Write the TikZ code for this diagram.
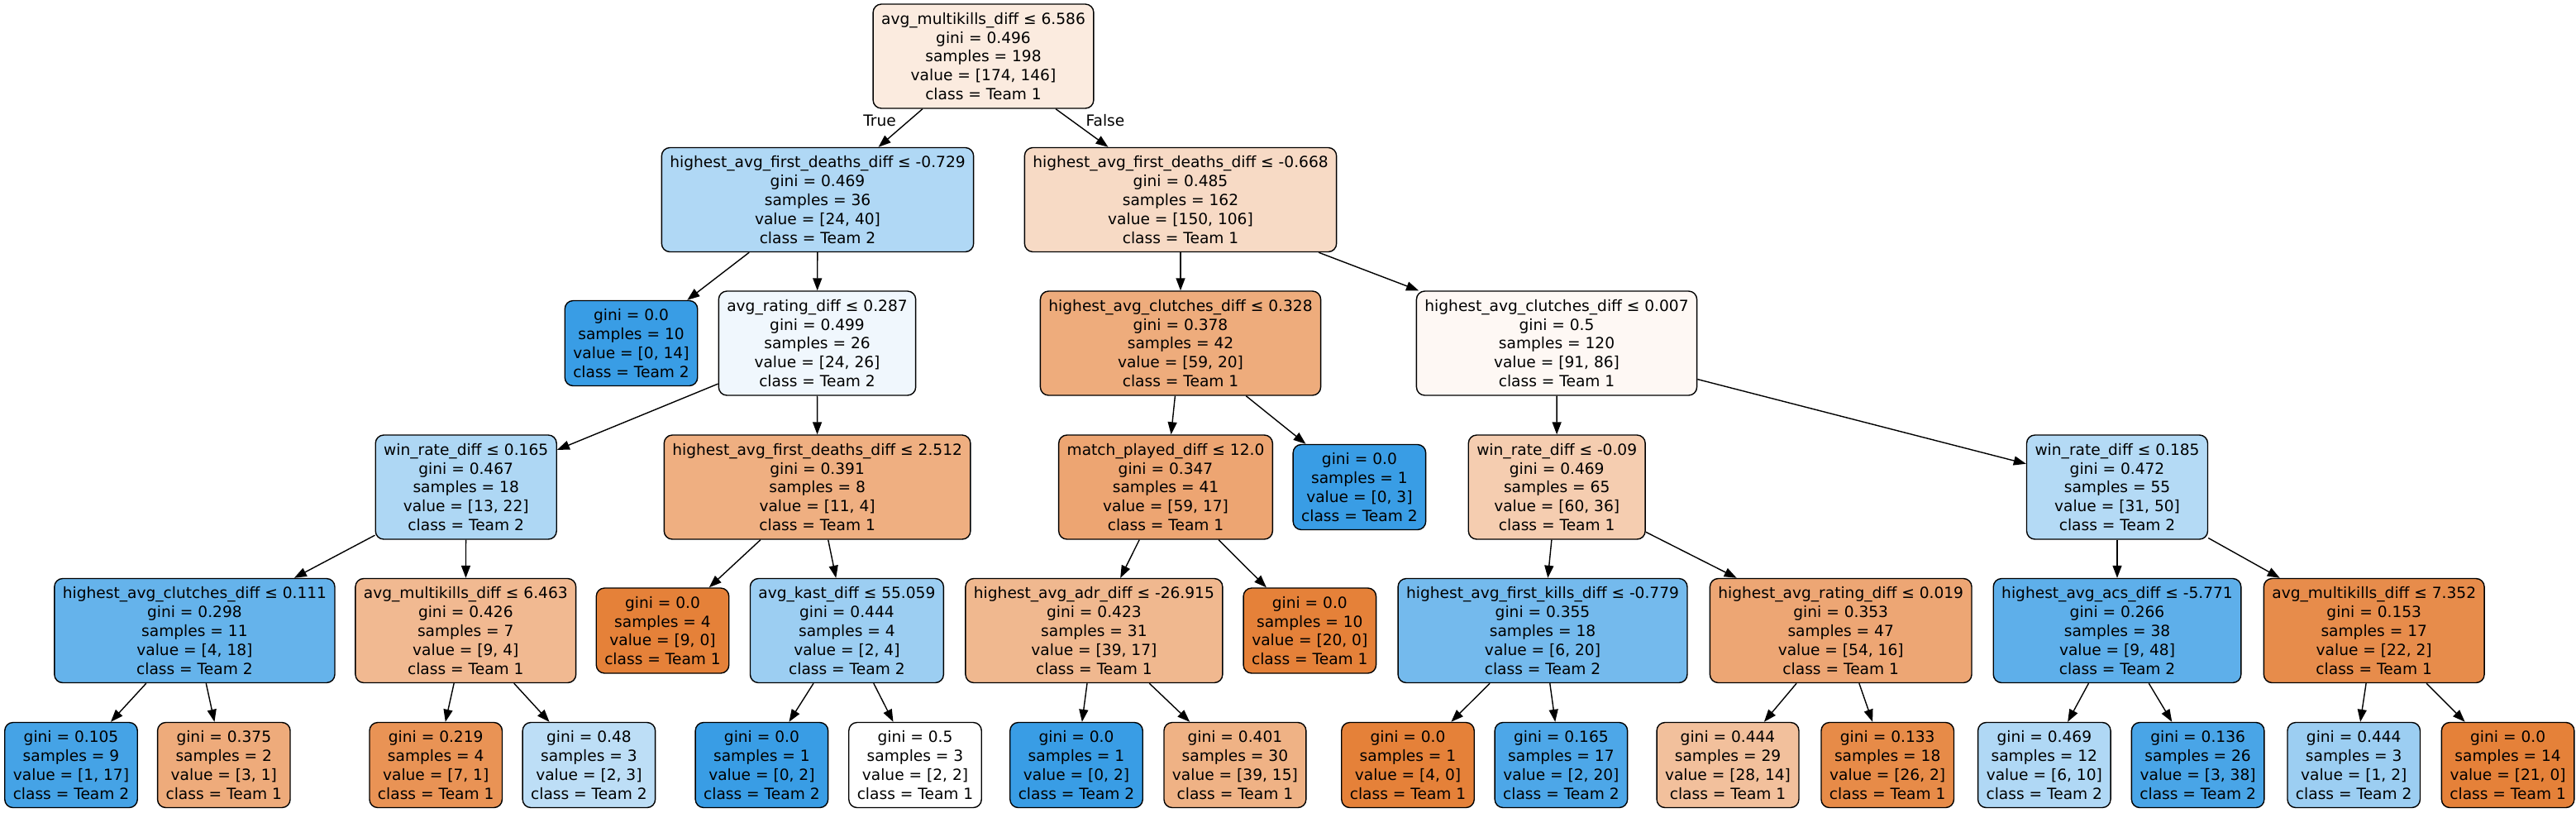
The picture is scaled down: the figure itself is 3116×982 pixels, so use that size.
\documentclass[tikz,border=0pt]{standalone}
\usepackage{fontspec}
\setmainfont{DejaVu Sans}
\usetikzlibrary{arrows.meta}
\definecolor{teamone}{RGB}{229,129,57}
\definecolor{teamtwo}{RGB}{57,157,229}

\begin{document}
\begin{tikzpicture}[x=0.5pt,y=-0.5pt,
    font=\fontsize{9.3}{11.45}\selectfont,
    tnode/.style={draw,line width=0.7pt,rounded corners=5pt,align=center,inner xsep=5pt,inner ysep=2pt},
    split/.style={tnode,minimum height=63pt},
    leaf/.style={tnode,minimum height=51.5pt},
    arr/.style={line width=0.7pt,-{Triangle[length=7.5pt,width=5.5pt]}}]
  \useasboundingbox (0,0) rectangle (3116,982);
  % 節点の定義
  \node[split,fill={rgb,255:red,251;green,235;blue,223}] (n0) at (1189.5,68) {avg\_multikills\_diff ≤ 6.586\\gini = 0.496\\samples = 198\\value = [174, 146]\\class = Team 1};
  \node[split,fill={rgb,255:red,176;green,216;blue,245}] (n1) at (989,241.5) {highest\_avg\_first\_deaths\_diff ≤ -0.729\\gini = 0.469\\samples = 36\\value = [24, 40]\\class = Team 2};
  \node[leaf,fill=teamtwo] (n2) at (763.5,415) {gini = 0.0\\samples = 10\\value = [0, 14]\\class = Team 2};
  \node[split,fill={rgb,255:red,240;green,247;blue,253}] (n3) at (988.5,415) {avg\_rating\_diff ≤ 0.287\\gini = 0.499\\samples = 26\\value = [24, 26]\\class = Team 2};
  \node[split,fill={rgb,255:red,174;green,215;blue,244}] (n4) at (563.7,589) {win\_rate\_diff ≤ 0.165\\gini = 0.467\\samples = 18\\value = [13, 22]\\class = Team 2};
  \node[split,fill={rgb,255:red,101;green,179;blue,235}] (n5) at (235.4,762.5) {highest\_avg\_clutches\_diff ≤ 0.111\\gini = 0.298\\samples = 11\\value = [4, 18]\\class = Team 2};
  \node[leaf,fill={rgb,255:red,69;green,163;blue,230}] (n6) at (86,925) {gini = 0.105\\samples = 9\\value = [1, 17]\\class = Team 2};
  \node[leaf,fill={rgb,255:red,238;green,171;blue,123}] (n7) at (270.8,925) {gini = 0.375\\samples = 2\\value = [3, 1]\\class = Team 1};
  \node[split,fill={rgb,255:red,241;green,185;blue,145}] (n8) at (563.3,762.5) {avg\_multikills\_diff ≤ 6.463\\gini = 0.426\\samples = 7\\value = [9, 4]\\class = Team 1};
  \node[leaf,fill={rgb,255:red,233;green,147;blue,85}] (n9) at (527.2,925) {gini = 0.219\\samples = 4\\value = [7, 1]\\class = Team 1};
  \node[leaf,fill={rgb,255:red,189;green,222;blue,246}] (n10) at (712.4,925) {gini = 0.48\\samples = 3\\value = [2, 3]\\class = Team 2};
  \node[split,fill={rgb,255:red,239;green,175;blue,129}] (n11) at (988.6,589) {highest\_avg\_first\_deaths\_diff ≤ 2.512\\gini = 0.391\\samples = 8\\value = [11, 4]\\class = Team 1};
  \node[leaf,fill=teamone] (n12) at (801.5,762.5) {gini = 0.0\\samples = 4\\value = [9, 0]\\class = Team 1};
  \node[split,fill={rgb,255:red,156;green,206;blue,242}] (n13) at (1024.4,762.5) {avg\_kast\_diff ≤ 55.059\\gini = 0.444\\samples = 4\\value = [2, 4]\\class = Team 2};
  \node[leaf,fill=teamtwo] (n14) at (921.4,925) {gini = 0.0\\samples = 1\\value = [0, 2]\\class = Team 2};
  \node[leaf,fill=white] (n15) at (1107,925) {gini = 0.5\\samples = 3\\value = [2, 2]\\class = Team 1};
  \node[split,fill={rgb,255:red,247;green,218;blue,197}] (n16) at (1428,241.5) {highest\_avg\_first\_deaths\_diff ≤ -0.668\\gini = 0.485\\samples = 162\\value = [150, 106]\\class = Team 1};
  \node[split,fill={rgb,255:red,238;green,172;blue,124}] (n17) at (1428,415) {highest\_avg\_clutches\_diff ≤ 0.328\\gini = 0.378\\samples = 42\\value = [59, 20]\\class = Team 1};
  \node[split,fill={rgb,255:red,237;green,165;blue,114}] (n18) at (1410,589) {match\_played\_diff ≤ 12.0\\gini = 0.347\\samples = 41\\value = [59, 17]\\class = Team 1};
  \node[split,fill={rgb,255:red,240;green,184;blue,143}] (n19) at (1323.4,762.5) {highest\_avg\_adr\_diff ≤ -26.915\\gini = 0.423\\samples = 31\\value = [39, 17]\\class = Team 1};
  \node[leaf,fill=teamtwo] (n20) at (1302,925) {gini = 0.0\\samples = 1\\value = [0, 2]\\class = Team 2};
  \node[leaf,fill={rgb,255:red,239;green,178;blue,133}] (n21) at (1493.9,925) {gini = 0.401\\samples = 30\\value = [39, 15]\\class = Team 1};
  \node[leaf,fill=teamone] (n22) at (1584.3,762.5) {gini = 0.0\\samples = 10\\value = [20, 0]\\class = Team 1};
  \node[leaf,fill=teamtwo] (n23) at (1644.4,589) {gini = 0.0\\samples = 1\\value = [0, 3]\\class = Team 2};
  \node[split,fill={rgb,255:red,254;green,248;blue,244}] (n24) at (1883,415) {highest\_avg\_clutches\_diff ≤ 0.007\\gini = 0.5\\samples = 120\\value = [91, 86]\\class = Team 1};
  \node[split,fill={rgb,255:red,245;green,205;blue,176}] (n25) at (1883.2,589) {win\_rate\_diff ≤ -0.09\\gini = 0.469\\samples = 65\\value = [60, 36]\\class = Team 1};
  \node[split,fill={rgb,255:red,116;green,186;blue,237}] (n26) at (1866,762.5) {highest\_avg\_first\_kills\_diff ≤ -0.779\\gini = 0.355\\samples = 18\\value = [6, 20]\\class = Team 2};
  \node[leaf,fill=teamone] (n27) at (1703,925) {gini = 0.0\\samples = 1\\value = [4, 0]\\class = Team 1};
  \node[leaf,fill={rgb,255:red,77;green,167;blue,232}] (n28) at (1888.4,925) {gini = 0.165\\samples = 17\\value = [2, 20]\\class = Team 2};
  \node[split,fill={rgb,255:red,237;green,166;blue,116}] (n29) at (2226.7,762.5) {highest\_avg\_rating\_diff ≤ 0.019\\gini = 0.353\\samples = 47\\value = [54, 16]\\class = Team 1};
  \node[leaf,fill={rgb,255:red,242;green,192;blue,156}] (n30) at (2090,925) {gini = 0.444\\samples = 29\\value = [28, 14]\\class = Team 1};
  \node[leaf,fill={rgb,255:red,231;green,139;blue,72}] (n31) at (2283.2,925) {gini = 0.133\\samples = 18\\value = [26, 2]\\class = Team 1};
  \node[split,fill={rgb,255:red,180;green,218;blue,245}] (n32) at (2561,589) {win\_rate\_diff ≤ 0.185\\gini = 0.472\\samples = 55\\value = [31, 50]\\class = Team 2};
  \node[split,fill={rgb,255:red,94;green,175;blue,234}] (n33) at (2561,762.5) {highest\_avg\_acs\_diff ≤ -5.771\\gini = 0.266\\samples = 38\\value = [9, 48]\\class = Team 2};
  \node[leaf,fill={rgb,255:red,176;green,216;blue,245}] (n34) at (2472.8,925) {gini = 0.469\\samples = 12\\value = [6, 10]\\class = Team 2};
  \node[leaf,fill={rgb,255:red,73;green,165;blue,231}] (n35) at (2658.6,925) {gini = 0.136\\samples = 26\\value = [3, 38]\\class = Team 2};
  \node[split,fill={rgb,255:red,231;green,140;blue,75}] (n36) at (2871.7,762.5) {avg\_multikills\_diff ≤ 7.352\\gini = 0.153\\samples = 17\\value = [22, 2]\\class = Team 1};
  \node[leaf,fill={rgb,255:red,156;green,206;blue,242}] (n37) at (2847.2,925) {gini = 0.444\\samples = 3\\value = [1, 2]\\class = Team 2};
  \node[leaf,fill=teamone] (n38) at (3033.6,925) {gini = 0.0\\samples = 14\\value = [21, 0]\\class = Team 1};

  % 辺の定義
  \draw[arr] (n0) edge (n1) edge (n16);
  \draw[arr] (n1) edge (n2) edge (n3);
  \draw[arr] (n3) edge (n4) edge (n11);
  \draw[arr] (n4) edge (n5) edge (n8);
  \draw[arr] (n5) edge (n6) edge (n7);
  \draw[arr] (n8) edge (n9) edge (n10);
  \draw[arr] (n11) edge (n12) edge (n13);
  \draw[arr] (n13) edge (n14) edge (n15);
  \draw[arr] (n16) edge (n17) edge (n24);
  \draw[arr] (n17) edge (n18) edge (n23);
  \draw[arr] (n18) edge (n19) edge (n22);
  \draw[arr] (n19) edge (n20) edge (n21);
  \draw[arr] (n24) edge (n25) edge (n32);
  \draw[arr] (n25) edge (n26) edge (n29);
  \draw[arr] (n26) edge (n27) edge (n28);
  \draw[arr] (n29) edge (n30) edge (n31);
  \draw[arr] (n32) edge (n33) edge (n36);
  \draw[arr] (n33) edge (n34) edge (n35);
  \draw[arr] (n36) edge (n37) edge (n38);

  % 枝のラベル
  \node (ltrue) at (1064,146) {True};
  \node (lfalse) at (1337,146) {False};
\end{tikzpicture}
\end{document}
